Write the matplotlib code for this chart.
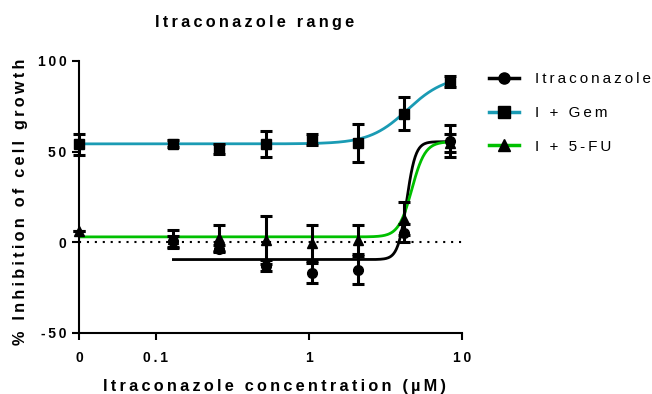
import numpy as np
import matplotlib
matplotlib.use("Agg")
import matplotlib.pyplot as plt
from matplotlib.lines import Line2D

plt.rcParams['font.family'] = ['Liberation Sans', 'DejaVu Sans']

# concentrations (uM); 0 is the untreated control
conc = [0, 0.13, 0.26, 0.52, 1.04, 2.08, 4.17, 8.33]

# % inhibition, mean and error per concentration
itra_conc = [0.13, 0.26, 0.52, 1.04, 2.08, 4.17, 8.33]
itra_mean = [0.5, -3.5, -13.0, -16.7, -15.3, 5.0, 55.8]
itra_err = [3.0, 2.0, 3.0, 5.5, 7.7, 5.0, 8.8]

gem_mean = [54.0, 54.5, 51.5, 54.3, 56.5, 55.0, 71.0, 88.5]
gem_err = [6.0, 2.0, 3.0, 7.0, 3.0, 10.5, 9.0, 3.0]

fu_mean = [6.5, 2.0, 2.3, 1.3, -0.4, 1.3, 13.0, 55.0]
fu_err = [0.0, 5.0, 7.0, 13.0, 10.0, 8.0, 9.0, 5.0]

# sigmoidal fit parameters: bottom, top, EC50, hill slope
itra_fit = (-9.5, 55.5, 4.35, 15.0)
gem_fit = (54.3, 92.0, 4.4, 3.5)
fu_fit = (3.0, 55.5, 4.7, 10.0)

labels = ['Itraconazole', 'I + Gem', 'I + 5-FU']
colors = ['black', '#1a9bb4', '#00c000']
markers = ['o', 's', '^']

xtick_labels = ['0', '0.1', '1', '10']
ytick_vals = [-50, 0, 50, 100]

X_ZERO = 10 ** -1.503   # where the 0 concentration sits on the log axis
FS = 11.7      # titles
FS_TICK = 10


def spaced(s):
    return '\u2009'.join(s)


def sigmoid(x, bottom, top, ec50, hill):
    return bottom + (top - bottom) / (1 + (ec50 / x) ** hill)


def plot_x(c):
    return [X_ZERO if v == 0 else v for v in c]


fig = plt.figure(figsize=(6.52, 3.94), dpi=100)
ax = fig.add_axes([79 / 652, 61 / 394, 383 / 652, 272 / 394])

ax.axhline(0, color='black', lw=1.5, ls=(0, (1, 2.8)), zorder=1)

series = [
    (itra_conc, itra_mean, itra_err, itra_fit),
    (conc, gem_mean, gem_err, gem_fit),
    (conc, fu_mean, fu_err, fu_fit),
]
for (c, m, e, fit), col, mk in zip(series, colors, markers):
    xs = plot_x(c)
    xx = np.logspace(np.log10(xs[0]), np.log10(xs[-1]), 400)
    ax.plot(xx, sigmoid(xx, *fit), color=col, lw=2.0, zorder=2)
    ax.errorbar(xs, m, yerr=e, fmt=mk, color='black', ms=7, elinewidth=2.2,
                capsize=4, capthick=2.2, zorder=3, clip_on=False)

ax.set_xscale('log')
ax.set_xlim(X_ZERO, 10)
ax.set_ylim(-50, 100)
ax.set_xticks([X_ZERO, 0.1, 1, 10])
ax.set_xticklabels([spaced(t) for t in xtick_labels], fontweight='bold')
ax.xaxis.set_minor_locator(matplotlib.ticker.NullLocator())
ax.set_yticks(ytick_vals)
ax.set_yticklabels([spaced(str(v)) for v in ytick_vals], fontweight='bold')

for s in ['top', 'right']:
    ax.spines[s].set_visible(False)
for s in ['left', 'bottom']:
    ax.spines[s].set_linewidth(1.5)
ax.tick_params(width=1.5, length=5, labelsize=FS_TICK)
ax.tick_params(axis='x', pad=8)
ax.tick_params(axis='y', pad=4)

fig.text(254.5 / 652, 1 - 27.5 / 394, spaced('Itraconazole range'),
         ha='center', va='baseline', fontsize=FS, fontweight='bold')
fig.text(274 / 652, 1 - 391 / 394, spaced('Itraconazole concentration (µM)'),
         ha='center', va='baseline', fontsize=FS, fontweight='bold')
fig.text(21 / 652, 1 - 201.5 / 394, spaced('% Inhibition of cell growth'),
         ha='center', va='center', rotation=90, fontsize=FS, fontweight='bold')

handles = [Line2D([], [], color=col, lw=2.5, marker=mk, mfc='black', mec='black', ms=8)
           for col, mk in zip(colors, markers)]
fig.legend(handles, [spaced(l) for l in labels], loc='upper left',
           bbox_to_anchor=(489 / 652, 1 - 72 / 394), frameon=False,
           borderpad=0, borderaxespad=0, handlelength=1.95, handletextpad=1.05,
           labelspacing=1.3, fontsize=11)

fig.savefig('out.png', dpi=100)
